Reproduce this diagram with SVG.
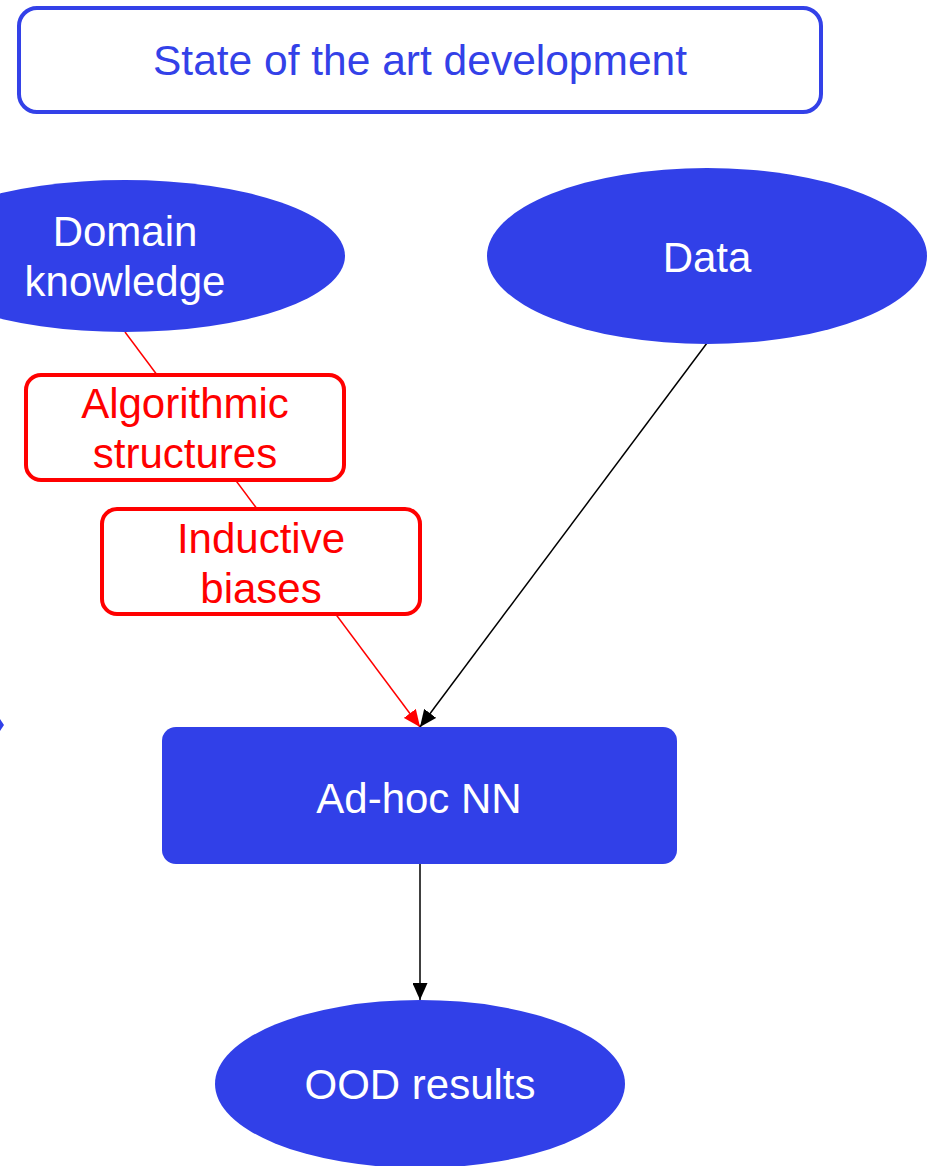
<svg xmlns="http://www.w3.org/2000/svg" width="936" height="1166" viewBox="0 0 936 1166">
<style>
text{font-family:"Liberation Sans",Arial,sans-serif;font-size:42px;text-anchor:middle}
.w{fill:#ffffff}
.b{fill:#3341E8}
.r{fill:#ff0000}
.blue{fill:#3140E8}
.redbox{fill:#ffffff;stroke:#ff0000;stroke-width:4}
</style>
<defs>
<marker id="ar" markerUnits="userSpaceOnUse" markerWidth="17" markerHeight="15" refX="17" refY="7.5" orient="auto"><path d="M0,0 L17,7.5 L0,15 Z" fill="#ff0000"/></marker>
<marker id="ak" markerUnits="userSpaceOnUse" markerWidth="17" markerHeight="15" refX="17" refY="7.5" orient="auto"><path d="M0,0 L17,7.5 L0,15 Z" fill="#000000"/></marker>
</defs>
<g id="title"><rect x="19" y="8" width="802" height="104" rx="18" fill="#ffffff" stroke="#3341E8" stroke-width="4"/><text x="420" y="75" class="b" style="font-size:42.5px">State of the art development</text></g>
<g id="connectors">
<line x1="125" y1="332" x2="420" y2="727" stroke="#ff0000" stroke-width="1.5" marker-end="url(#ar)"/>
<line x1="707" y1="343" x2="420" y2="727" stroke="#000000" stroke-width="1.5" marker-end="url(#ak)"/>
<line x1="420" y1="864" x2="420" y2="1000" stroke="#000000" stroke-width="1.5" marker-end="url(#ak)"/>
<polygon points="0,719 4,725 0,731" fill="#3140E8"/>
</g>
<g id="domain"><ellipse cx="125" cy="256" rx="220" ry="76" class="blue"/><text x="125" y="246" class="w">Domain</text><text x="125" y="296" class="w">knowledge</text></g>
<g id="data"><ellipse cx="707" cy="256" rx="220" ry="88" class="blue"/><text x="707" y="272" class="w">Data</text></g>
<g id="algorithmic"><rect x="26" y="375" width="318" height="105" rx="15" class="redbox"/><text x="185" y="418" class="r">Algorithmic</text><text x="185" y="468" class="r">structures</text></g>
<g id="inductive"><rect x="102" y="509" width="318" height="105" rx="15" class="redbox"/><text x="261" y="553" class="r">Inductive</text><text x="261" y="603" class="r">biases</text></g>
<g id="adhoc"><rect x="162" y="727" width="515" height="137" rx="14" class="blue"/><text x="419" y="813" class="w">Ad-hoc NN</text></g>
<g id="ood"><ellipse cx="420" cy="1084" rx="205" ry="84" class="blue"/><text x="420" y="1099" class="w">OOD results</text></g>
</svg>
